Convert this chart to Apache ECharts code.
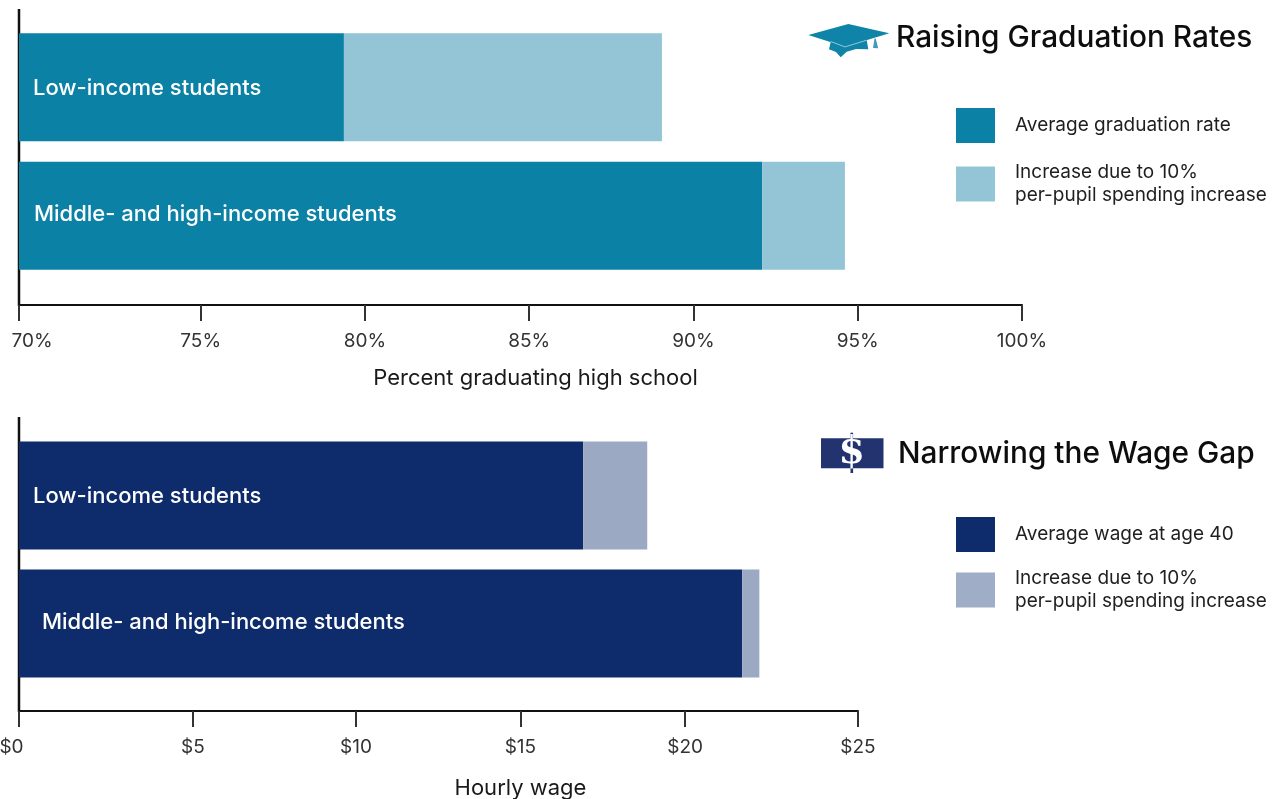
<!DOCTYPE html>
<html>
<head>
<meta charset="utf-8">
<title>Raising Graduation Rates and Narrowing the Wage Gap</title>
<script src="https://cdn.jsdelivr.net/npm/echarts@6/dist/echarts.min.js"></script>
<style>html,body{margin:0;padding:0;background:#fff}#chart{width:1281px;height:799px}</style>
</head>
<body>
<div id="chart"></div>
<script>
// Student groups shared by both panels
const groups = ['Low-income students', 'Middle- and high-income students'];

// Graduation panel, percent graduating
const gradAverage = [79.36, 92.09];
const gradIncrease = [9.68, 2.52];
const gradTickValues = [69.47, 75, 80, 85, 90, 95, 100];
const gradTickLabels = ['70%', '75%', '80%', '85%', '90%', '95%', '100%'];

// Wage panel, dollars per hour
const wageAverage = [16.81, 21.55];
const wageIncrease = [1.91, 0.51];
const wageTickValues = [0, 5.18, 10.04, 14.94, 19.85, 25];
const wageTickLabels = ['$0', '$5', '$10', '$15', '$20', '$25'];

const increaseName = 'Increase due to 10%\nper-pupil spending increase';
const FONT = 'Inter';
const chart = echarts.init(document.getElementById('chart'), null, {renderer: 'canvas'});

function valueAxis(gridIndex, min, max, ticks, labels, name, nameShift, nameGap, offset, firstPad) {
  return {
    type: 'value', gridIndex, min, max, offset, silent: true,
    splitLine: {show: false},
    axisLine: {show: true, lineStyle: {color: '#111', width: 2}},
    axisTick: {show: true, length: 16, customValues: ticks, lineStyle: {color: '#333', width: 2}},
    axisLabel: {
      show: true, customValues: ticks, margin: 27, hideOverlap: false,
      fontFamily: FONT, fontSize: 19, color: '#333',
      formatter: v => {
        const i = ticks.indexOf(v);
        return i === 0 ? '{first|' + labels[0] + '}' : labels[i];
      },
      rich: {first: {fontFamily: FONT, fontSize: 19, color: '#333', padding: firstPad}}
    },
    name, nameLocation: 'middle', nameGap,
    nameTextStyle: {fontFamily: FONT, fontSize: 22, color: '#1a1a1a', padding: [0, 0, 0, nameShift]}
  };
}

function groupAxis(gridIndex) {
  return {
    type: 'category', gridIndex, data: groups, inverse: true,
    axisLine: {show: false}, axisTick: {show: false}, axisLabel: {show: false}, splitLine: {show: false}
  };
}

function stackedSeries(axisIndex, stack, names, average, increase, dark, light, labelDistances) {
  return [
    {
      type: 'bar', name: names[0], stack, xAxisIndex: axisIndex, yAxisIndex: axisIndex,
      barWidth: 108, itemStyle: {color: dark}, silent: true,
      data: average.map((value, i) => ({
        value,
        label: {
          show: true, position: 'insideLeft', distance: labelDistances[i],
          offset: [0, i === 0 ? 1 : -1],
          formatter: groups[i], color: '#fff',
          fontFamily: FONT, fontSize: 22, fontWeight: 500
        }
      }))
    },
    {
      type: 'bar', name: names[1], stack, xAxisIndex: axisIndex, yAxisIndex: axisIndex,
      barWidth: 108, itemStyle: {color: light}, silent: true, data: increase
    }
  ];
}

function legendBlock(top, names, colors, itemGap) {
  return {
    left: 956, top, orient: 'vertical', selectedMode: false, padding: 0,
    itemWidth: 39, itemHeight: 35, itemGap, icon: 'rect', align: 'left',
    data: names.map((name, i) => ({name, itemStyle: {color: colors[i]}})),
    textStyle: {
      fontFamily: FONT, fontSize: 19, lineHeight: 23, color: '#1f1f1f',
      padding: [0, 0, 0, 15]
    }
  };
}

const titleStyle = {fontFamily: FONT, fontSize: 29.8, fontWeight: 500, color: '#0d0d0d'};

chart.setOption({
  animation: false,
  backgroundColor: '#fff',
  title: [
    {text: 'Raising Graduation Rates', left: 896, top: 23, padding: 0, textStyle: titleStyle},
    {text: 'Narrowing the Wage Gap', left: 898, top: 439, padding: 0, textStyle: titleStyle}
  ],
  grid: [
    {left: 19, width: 1003, top: 23, height: 257, outerBoundsMode: 'none'},
    {left: 19, width: 839, top: 431.5, height: 256, outerBoundsMode: 'none'}
  ],
  xAxis: [
    valueAxis(0, 69.47, 100, gradTickValues, gradTickLabels, 'Percent graduating high school', 30, 62, 25, [0, 0, 0, 26]),
    valueAxis(1, 0, 25, wageTickValues, wageTickLabels, 'Hourly wage', 164, 66, 23.5, [0, 15, 0, 0])
  ],
  yAxis: [groupAxis(0), groupAxis(1)],
  legend: [
    legendBlock(108, ['Average graduation rate', increaseName], ['#0c81a6', '#93c5d6'], 18),
    legendBlock(517, ['Average wage at age 40', increaseName], ['#0e2c6b', '#a0adc6'], 15)
  ],
  series: [
    ...stackedSeries(0, 'grad', ['Average graduation rate', increaseName], gradAverage, gradIncrease, '#0c81a6', '#93c5d6', [14, 15]),
    ...stackedSeries(1, 'wage', ['Average wage at age 40', increaseName], wageAverage, wageIncrease, '#0e2c6b', '#9ca9c3', [14, 23])
  ],
  graphic: [
    // vertical spines of the two panels
    {type: 'line', shape: {x1: 19, y1: 9, x2: 19, y2: 306}, style: {stroke: '#111', lineWidth: 2.5}},
    {type: 'line', shape: {x1: 19, y1: 417, x2: 19, y2: 712}, style: {stroke: '#111', lineWidth: 2.5}},
    // mortarboard icon
    {type: 'polygon', shape: {points: [[830.7, 42], [866.7, 40], [868.3, 49.3], [856, 49], [846.7, 51.7], [840.7, 57.3], [836, 52], [829, 49.3]]}, style: {fill: '#0f84a8'}},
    {type: 'polygon', shape: {points: [[808.3, 35], [848.3, 24], [889.3, 33.3], [845, 46.7]]}, style: {fill: '#0f84a8'}},
    {type: 'polyline', shape: {points: [[830.7, 41.5], [845, 46.9], [866.7, 40.2]]}, style: {stroke: '#cfe4ec', lineWidth: 0.7, fill: 'none'}},
    {type: 'polygon', shape: {points: [[874.5, 38.5], [875.7, 38.5], [878.2, 48.3], [873, 48]]}, style: {fill: '#3f9bb9'}},
    // dollar bill icon
    {type: 'rect', shape: {x: 821, y: 438.3, width: 62.5, height: 30}, style: {fill: '#233370'}},
    {type: 'rect', shape: {x: 850.5, y: 432.7, width: 2.6, height: 40.3}, style: {fill: '#233370'}},
    {type: 'text', x: 851.8, y: 453.5, style: {text: '$', fill: '#fff', font: 'bold 38px "DejaVu Serif"', align: 'center', verticalAlign: 'middle'}}
  ]
});
</script>
</body>
</html>
